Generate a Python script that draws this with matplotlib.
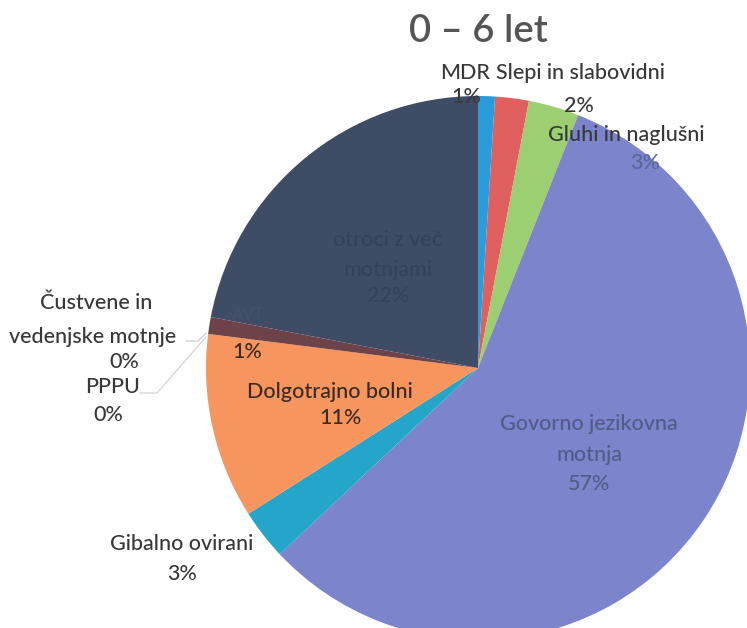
import matplotlib
matplotlib.use("Agg")
import matplotlib.pyplot as plt

# ------------------------------- data (clockwise from 12 o'clock)
categories = ["MDR", "Slepi in slabovidni", "Gluhi in naglušni",
              "Govorno jezikovna motnja", "Gibalno ovirani", "Dolgotrajno bolni",
              "PPPU", "Čustvene in vedenjske motnje", "AVT", "Otroci z več motnjami"]
values = [1, 2, 3, 57, 3, 11, 0.0, 0.0, 1, 22]
pct_labels = ["1%", "2%", "3%", "57%", "3%", "11%", "0%", "0%", "1%", "22%"]
colors = ["#2b9bd9", "#e0605f", "#9ccf72", "#7c84cc", "#23a6c9",
          "#f7955f", "#8a5a5a", "#7a4a50", "#6e4249", "#3e4c66"]

plt.rcParams['font.family'] = ['Lato', 'DejaVu Sans']

fig = plt.figure(figsize=(7.47, 6.28), dpi=100)
ax = fig.add_axes([0, 0, 1, 1])

H = 628
cx, cy, r = 478, H - 368, 272
ax.pie(values, colors=colors, startangle=90, counterclock=False,
       center=(cx, cy), radius=r, frame=True,
       wedgeprops=dict(linewidth=0))
ax.set_xlim(0, 747)
ax.set_ylim(0, 628)
ax.axis('off')

dark = "#383838"
fs = 15.5


def txt(x, y, s, color=dark, size=fs, weight='medium'):
    # y given in image pixel coords (top = 0)
    ax.text(x, H - y, s, ha='center', va='center', fontsize=size,
            color=color, fontweight=weight)


txt(478, 31, "0 – 6 let", color="#555555", size=27.5, weight='semibold')

txt(465, 73, categories[0])
txt(466, 97, pct_labels[0])
txt(580, 73, categories[1])
txt(579, 106, pct_labels[1])
txt(626, 135, categories[2])
txt(645, 163, pct_labels[2], color="#5d6596")

gov = "#545a88"
txt(589, 424, "Govorno jezikovna", color=gov)
txt(589, 455, "motnja", color=gov)
txt(589, 484, pct_labels[3], color=gov)

txt(182, 544, categories[4])
txt(182, 574, pct_labels[4])

txt(330, 392, categories[5], color="#3a2a20")
txt(340, 418, pct_labels[5], color="#3a2a20")

txt(96, 303, "Čustvene in")
txt(93, 337, "vedenjske motnje")
txt(124, 362, pct_labels[7])
txt(113, 387, categories[6])
txt(108, 415, pct_labels[6])

txt(248, 315, categories[8], color="#46526c", size=12)
txt(247, 352, pct_labels[8], color="#3a2a20")

sl = "#35415a"
txt(388, 240, "otroci z več", color=sl)
txt(388, 270, "motnjami", color=sl)
txt(388, 296, pct_labels[9], color=sl)

# leader lines for the 0% slices
ax.plot([186, 198, 206], [H - 341, H - 341, H - 333], color="#c8c8c8", lw=0.8)
ax.plot([140, 157, 206], [H - 393, H - 393, H - 337], color="#d0d0d0", lw=0.8)

fig.savefig("out.png", dpi=100)
